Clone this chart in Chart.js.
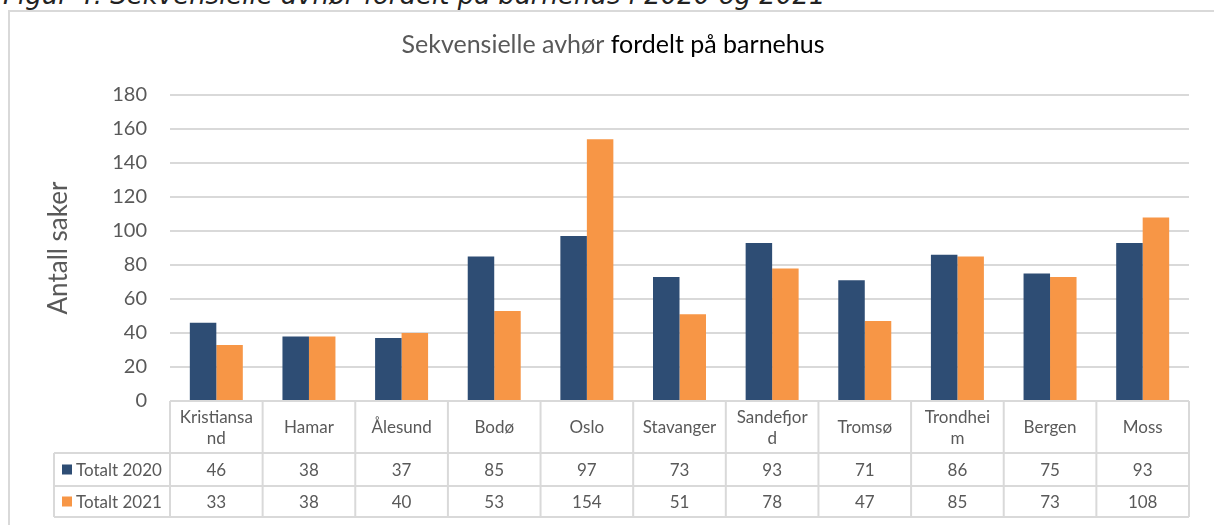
<!DOCTYPE html>
<html lang="no">
<head>
<meta charset="utf-8">
<title>Sekvensielle avhør fordelt på barnehus</title>
<script src="https://cdn.jsdelivr.net/npm/chart.js@4.4.1/dist/chart.umd.min.js"></script>
<style>
  html, body { margin: 0; padding: 0; background: #fff; overflow: hidden; }
  #wrap { position: relative; width: 1214px; height: 525px; }
  #caption {
    position: absolute; left: 3px; top: -18px; white-space: nowrap;
    font: italic 26px 'DejaVu Sans', sans-serif; line-height: 26px; color: #222;
  }
  #frame {
    position: absolute; left: 8px; top: 10px; width: 1300px; height: 600px;
    border: 2px solid #d9d9d9; box-sizing: border-box;
  }
  #chart { position: absolute; left: 0; top: 0; }
</style>
</head>
<body>
<div id="wrap">
  <div id="caption">Figur 4. Sekvensielle avhør fordelt på barnehus i 2020 og 2021</div>
  <div id="frame"></div>
  <canvas id="chart" width="1214" height="525"></canvas>
</div>
<script>
// ── Data ──────────────────────────────────────────────────
const categories = [
  ['Kristiansa', 'nd'], ['Hamar'], ['Ålesund'], ['Bodø'], ['Oslo'],
  ['Stavanger'], ['Sandefjor', 'd'], ['Tromsø'], ['Trondhei', 'm'], ['Bergen'], ['Moss']
];
const seriesNames = ['Totalt 2020', 'Totalt 2021'];
const values2020 = [46, 38, 37, 85, 97, 73, 93, 71, 86, 75, 93];
const values2021 = [33, 38, 40, 53, 154, 51, 78, 47, 85, 73, 108];
const yTicks = [0, 20, 40, 60, 80, 100, 120, 140, 160, 180];

const COLOR_2020 = '#2E4D74';
const COLOR_2021 = '#F79646';
const TEXT_GREY  = '#595959';
const LINE_GREY  = '#d9d9d9';
const FONT = "Lato, 'Open Sans', sans-serif";

// ── Title in two colours ──────────────────────────────────
const titlePlugin = {
  id: 'twoToneTitle',
  afterDraw(chart) {
    const ctx = chart.ctx;
    const partA = 'Sekvensielle avhør ';
    const partB = 'fordelt på barnehus';
    ctx.save();
    ctx.font = '25px ' + FONT;
    ctx.textBaseline = 'alphabetic';
    const wA = ctx.measureText(partA).width;
    const wB = ctx.measureText(partB).width;
    const x0 = 613 - (wA + wB) / 2;
    ctx.fillStyle = TEXT_GREY;
    ctx.fillText(partA, x0, 53);
    ctx.fillStyle = '#000';
    ctx.fillText(partB, x0 + wA, 53);
    ctx.restore();
  }
};

// ── Data table under the plot ─────────────────────────────
const tablePlugin = {
  id: 'dataTable',
  afterDraw(chart) {
    const ctx = chart.ctx;
    const xs = chart.scales.x;
    const area = chart.chartArea;
    const n = categories.length;
    const cw = (area.right - area.left) / n;
    const legendLeft = 54;
    const yTop = area.bottom, yHead = 453, yRow1 = 486, yRow2 = 517;

    ctx.save();
    ctx.strokeStyle = LINE_GREY;
    ctx.lineWidth = 2;
    ctx.beginPath();
    ctx.moveTo(area.left, yTop); ctx.lineTo(area.right, yTop);
    [yHead, yRow1, yRow2].forEach(y => { ctx.moveTo(legendLeft, y); ctx.lineTo(area.right, y); });
    ctx.moveTo(legendLeft, yHead); ctx.lineTo(legendLeft, yRow2);
    for (let i = 0; i <= n; i++) {
      const x = area.left + i * cw;
      ctx.moveTo(x, yTop); ctx.lineTo(x, yRow2);
    }
    ctx.stroke();

    ctx.fillStyle = TEXT_GREY;
    ctx.font = '17px ' + FONT;
    ctx.textAlign = 'center';
    ctx.textBaseline = 'middle';
    categories.forEach((lines, i) => {
      const cx = xs.getPixelForValue(i);
      const midY = (yTop + yHead) / 2 + 1;
      const lh = 21;
      lines.forEach((t, k) => {
        ctx.fillText(t, cx, midY + (k - (lines.length - 1) / 2) * lh);
      });
      ctx.fillText(String(values2020[i]), cx, (yHead + yRow1) / 2 + 1);
      ctx.fillText(String(values2021[i]), cx, (yRow1 + yRow2) / 2 + 1);
    });

    // legend keys
    ctx.textAlign = 'left';
    [[COLOR_2020, yHead, yRow1], [COLOR_2021, yRow1, yRow2]].forEach(([c, a, b], k) => {
      const my = (a + b) / 2;
      ctx.fillStyle = c;
      ctx.fillRect(62, my - 5, 10, 10);
      ctx.fillStyle = TEXT_GREY;
      ctx.fillText(seriesNames[k], 76, my + 1);
    });
    ctx.restore();
  }
};

new Chart(document.getElementById('chart'), {
  type: 'bar',
  data: {
    labels: categories,
    datasets: [
      { label: seriesNames[0], data: values2020, backgroundColor: COLOR_2020 },
      { label: seriesNames[1], data: values2021, backgroundColor: COLOR_2021 }
    ]
  },
  options: {
    responsive: false,
    animation: false,
    events: [],
    layout: { padding: { top: 95, right: 25, bottom: 124, left: 0 } },
    datasets: { bar: { categoryPercentage: 0.572, barPercentage: 1.0 } },
    plugins: { legend: { display: false }, title: { display: false }, tooltip: { enabled: false } },
    scales: {
      x: { display: false },
      y: {
        min: 0, max: 180,
        afterFit: (s) => { s.width = 170; },
        afterBuildTicks: (s) => { s.ticks = yTicks.map(v => ({ value: v })); },
        border: { display: false },
        grid: { color: LINE_GREY, lineWidth: 2, drawTicks: false },
        ticks: { color: TEXT_GREY, font: { family: FONT, size: 20 }, padding: 23 },
        title: {
          display: true, text: 'Antall saker', color: TEXT_GREY,
          font: { family: FONT, size: 26 }, padding: { top: 43, bottom: 0 }
        }
      }
    }
  },
  plugins: [titlePlugin, tablePlugin]
});
</script>
</body>
</html>
